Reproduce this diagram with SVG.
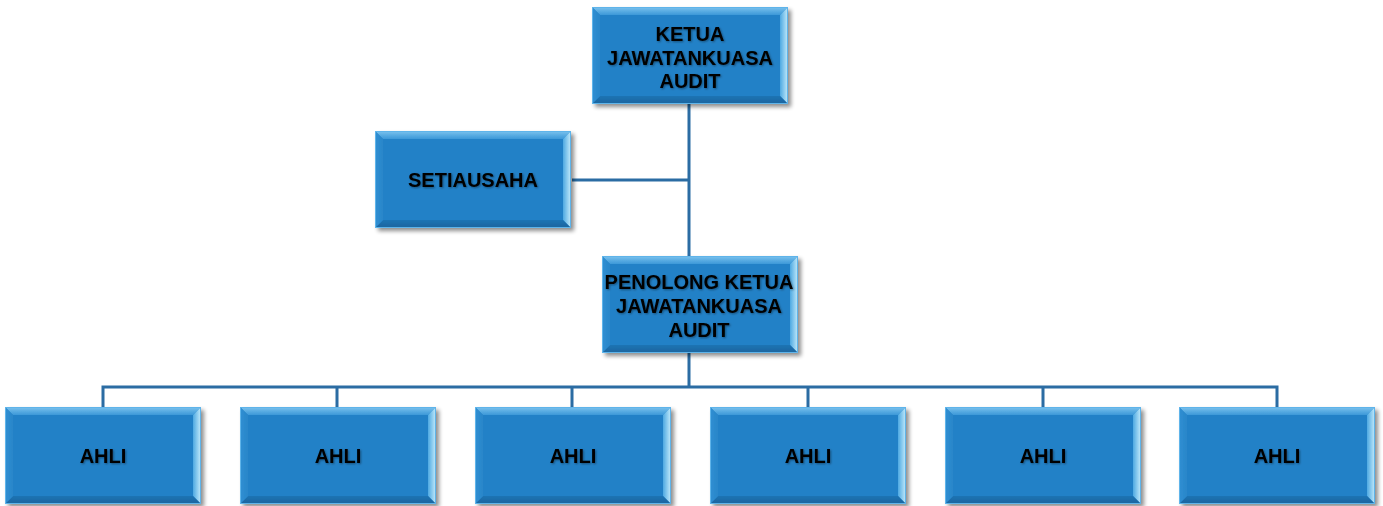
<svg xmlns="http://www.w3.org/2000/svg" width="1383" height="506" viewBox="0 0 1383 506">
<defs>
<filter id="sh" x="-10%" y="-10%" width="130%" height="130%">
<feGaussianBlur in="SourceAlpha" stdDeviation="2"/>
<feOffset dx="3" dy="3" result="o"/>
<feComponentTransfer><feFuncA type="linear" slope="0.45"/></feComponentTransfer>
<feMerge><feMergeNode/><feMergeNode in="SourceGraphic"/></feMerge>
</filter>
<filter id="ts" x="-5%" y="-20%" width="110%" height="140%">
<feGaussianBlur in="SourceAlpha" stdDeviation="0.8"/>
<feOffset dx="1" dy="1"/>
<feComponentTransfer><feFuncA type="linear" slope="0.4"/></feComponentTransfer>
<feMerge><feMergeNode/><feMergeNode in="SourceGraphic"/></feMerge>
</filter>
<linearGradient id="top" x1="0" y1="0" x2="0" y2="1"><stop offset="0" stop-color="#7cc3ee"/><stop offset="1" stop-color="#3b98d8"/></linearGradient>
<linearGradient id="rt" x1="0" y1="0" x2="1" y2="0"><stop offset="0" stop-color="#4ea9e2"/><stop offset="1" stop-color="#c4ebfb"/></linearGradient>
<linearGradient id="bt" x1="0" y1="0" x2="0" y2="1"><stop offset="0" stop-color="#1f74b4"/><stop offset="1" stop-color="#1a649e"/></linearGradient>
<linearGradient id="lf" x1="0" y1="0" x2="1" y2="0"><stop offset="0" stop-color="#2f8fd3"/><stop offset="1" stop-color="#2a86c9"/></linearGradient>
<g id="box">
<rect x="0" y="0" width="196" height="97" fill="#2381c7"/>
<polygon points="0,0 196,0 188,8 8,8" fill="url(#top)"/>
<polygon points="196,0 196,97 188,89 188,8" fill="url(#rt)"/>
<polygon points="0,97 196,97 188,89 8,89" fill="url(#bt)"/>
<polygon points="0,0 8,8 8,89 0,97" fill="url(#lf)"/>
<rect x="0.5" y="0.5" width="195" height="96" fill="none" stroke="#5fb4ea" stroke-width="1"/>
</g>
</defs>
<style>
.lbl{font-family:"Liberation Sans",Arial,sans-serif;font-weight:bold;font-size:20px;fill:#000;text-anchor:middle}
.conn{stroke:#2b6ca3;stroke-width:3;fill:none}
</style>
<g id="connectors">
<path class="conn" d="M689,104 V386"/>
<path class="conn" d="M572,180 H689"/>
<path class="conn" d="M103,407 V387 H1277 V407"/>
<path class="conn" d="M337,387 V407 M572,387 V407 M808,387 V407 M1043,387 V407"/>
</g>
<g id="ketua" filter="url(#sh)">
<use href="#box" x="592" y="7"/>
<text class="lbl" filter="url(#ts)"><tspan x="690" y="41">KETUA</tspan><tspan x="690" y="65">JAWATANKUASA</tspan><tspan x="690" y="88">AUDIT</tspan></text>
</g>
<g id="setiausaha" filter="url(#sh)">
<use href="#box" x="375" y="131"/>
<text class="lbl" x="473" y="187" filter="url(#ts)">SETIAUSAHA</text>
</g>
<g id="penolong" filter="url(#sh)">
<use href="#box" x="602" y="256"/>
<text class="lbl" filter="url(#ts)"><tspan x="699" y="289">PENOLONG KETUA</tspan><tspan x="699" y="313">JAWATANKUASA</tspan><tspan x="699" y="337">AUDIT</tspan></text>
</g>
<g id="ahli1" filter="url(#sh)"><use href="#box" x="5" y="407"/><text class="lbl" x="103" y="463" filter="url(#ts)">AHLI</text></g>
<g id="ahli2" filter="url(#sh)"><use href="#box" x="240" y="407"/><text class="lbl" x="338" y="463" filter="url(#ts)">AHLI</text></g>
<g id="ahli3" filter="url(#sh)"><use href="#box" x="475" y="407"/><text class="lbl" x="573" y="463" filter="url(#ts)">AHLI</text></g>
<g id="ahli4" filter="url(#sh)"><use href="#box" x="710" y="407"/><text class="lbl" x="808" y="463" filter="url(#ts)">AHLI</text></g>
<g id="ahli5" filter="url(#sh)"><use href="#box" x="945" y="407"/><text class="lbl" x="1043" y="463" filter="url(#ts)">AHLI</text></g>
<g id="ahli6" filter="url(#sh)"><use href="#box" x="1179" y="407"/><text class="lbl" x="1277" y="463" filter="url(#ts)">AHLI</text></g>
</svg>
